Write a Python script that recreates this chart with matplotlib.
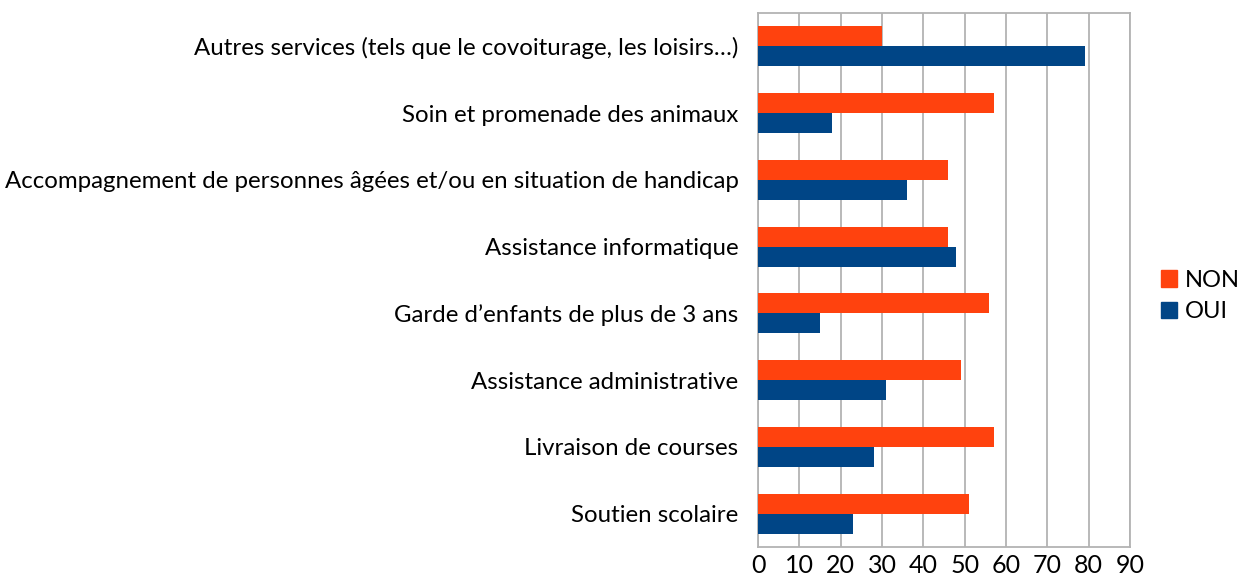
import numpy as np
import matplotlib
matplotlib.use("Agg")
import matplotlib.pyplot as plt
from matplotlib.patches import Patch

plt.rcParams['font.family'] = ['Lato', 'DejaVu Sans']

# categories, bottom to top as drawn
categories = [
    "Soutien scolaire",
    "Livraison de courses",
    "Assistance administrative",
    "Garde d\u2019enfants de plus de 3 ans",
    "Assistance informatique",
    "Accompagnement de personnes âgées et/ou en situation de handicap",
    "Soin et promenade des animaux",
    "Autres services (tels que le covoiturage, les loisirs\u2026)",
]
non_vals = [51, 57, 49, 56, 46, 46, 57, 30]
oui_vals = [23, 28, 31, 15, 48, 36, 18, 79]
xticks = [0, 10, 20, 30, 40, 50, 60, 70, 80, 90]

c_non = "#ff420e"
c_oui = "#004586"
grid_c = "#b3b3b3"

fig = plt.figure(figsize=(12.4, 5.77), dpi=100)
ax = fig.add_axes([758 / 1240, 1 - 547 / 577, (1130 - 758) / 1240, (547 - 13) / 577])

y = np.arange(len(categories))
h = 0.3
ax.barh(y + h / 2, non_vals, height=h, color=c_non, zorder=3)
ax.barh(y - h / 2, oui_vals, height=h, color=c_oui, zorder=3)

ax.set_xlim(0, 90)
ax.set_ylim(-0.5, len(categories) - 0.5)
ax.set_xticks(xticks)
ax.set_yticks(y)
ax.set_yticklabels(categories)
ax.tick_params(axis='both', length=0, colors='black')
ax.tick_params(axis='y', labelsize=17.3, pad=14)
ax.tick_params(axis='x', labelsize=18, pad=5)
ax.xaxis.grid(True, color=grid_c, linewidth=1.3, zorder=0)
ax.set_axisbelow(True)
for s in ax.spines.values():
    s.set_color(grid_c)
    s.set_linewidth(1.3)

handles = [Patch(color=c_non, label="NON"), Patch(color=c_oui, label="OUI")]
fig.legend(handles=handles, loc='center left', bbox_to_anchor=(1161 / 1240, 1 - 296 / 577),
           frameon=False, fontsize=17, handlelength=0.68, handleheight=0.68,
           handletextpad=0.34, labelspacing=0.45, borderpad=0, borderaxespad=0)

fig.savefig("out.png", dpi=100)
